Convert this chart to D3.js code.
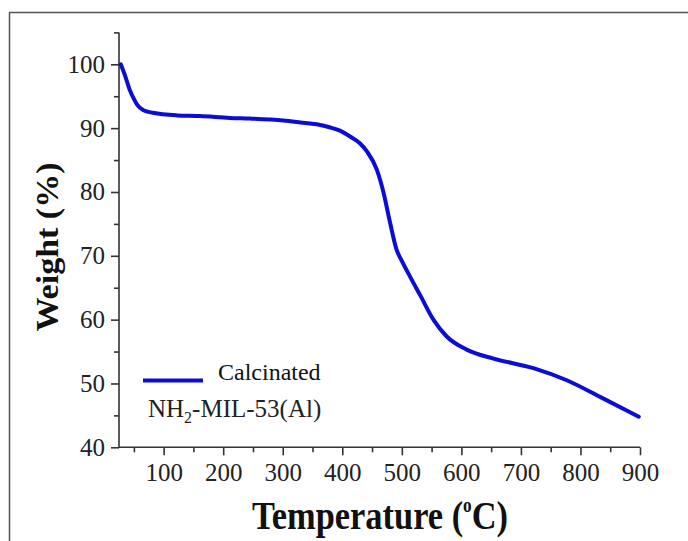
<!DOCTYPE html>
<html>
<head>
<meta charset="utf-8">
<script src="https://cdn.jsdelivr.net/npm/d3@7"></script>
<style>
  body { margin: 0; background: #fff; }
  svg { display: block; }
  .axis text { font-family: "Liberation Serif", "Times New Roman", serif; font-size: 25px; fill: #222; }
  .axis path, .axis line { stroke: #333; stroke-width: 1.6px; }
</style>
</head>
<body>
<div id="graph"></div>
<script>
// TGA curve: temperature (C) and weight (%)
const temperature = [28, 36, 43, 50, 56, 66, 82, 122, 161, 211, 245, 301, 330, 357, 380, 396,
  413, 430, 441, 458, 469, 480, 491, 500, 514, 531, 553, 575, 609, 654, 721, 777, 833, 898];
const weight = [100, 98.0, 96.0, 94.6, 93.6, 92.8, 92.4, 92.0, 91.9, 91.6, 91.5, 91.2, 90.9, 90.6, 90.1, 89.6,
  88.7, 87.6, 86.4, 83.5, 80.0, 75.3, 71.0, 69.2, 66.7, 63.8, 60.0, 57.4, 55.3, 53.9, 52.4, 50.5, 47.9, 44.8];

const xMajor = [100, 200, 300, 400, 500, 600, 700, 800, 900];
const xMinor = [50, 150, 250, 350, 450, 550, 650, 750, 850];
const yMajor = [40, 50, 60, 70, 80, 90, 100];
const yMinor = [45, 55, 65, 75, 85, 95, 105];

const seriesName = 'Calcinated';

const width = 688, height = 541;
const serif = '"Liberation Serif", "Times New Roman", serif';

const svg = d3.select('#graph')
  .append('svg')
  .attr('width', width)
  .attr('height', height);

// Outer frame of the figure
svg.append('rect')
  .attr('x', 9.5).attr('y', 12.5)
  .attr('width', 700).attr('height', 600)
  .attr('fill', 'none')
  .attr('stroke', '#555')
  .attr('stroke-width', 1.5);

const x = d3.scaleLinear().domain([25, 900]).range([119, 640]);
const y = d3.scaleLinear().domain([40, 105]).range([447.3, 32.4]);

// Minor ticks first, then the labelled axes
svg.append('g')
  .attr('class', 'axis')
  .attr('transform', `translate(0,${y(40)})`)
  .call(d3.axisBottom(x).tickValues(xMinor).tickSize(5).tickFormat(''))
  .call(g => g.select('.domain').remove());

svg.append('g')
  .attr('class', 'axis')
  .attr('transform', `translate(${x(25)},0)`)
  .call(d3.axisLeft(y).tickValues(yMinor).tickSize(5).tickFormat(''))
  .call(g => g.select('.domain').remove());

svg.append('g')
  .attr('class', 'axis')
  .attr('transform', `translate(0,${y(40)})`)
  .call(d3.axisBottom(x).tickValues(xMajor).tickSize(8).tickPadding(8).tickSizeOuter(0))
  .call(g => g.select('.domain').attr('d', `M${x(25)},0H${x(900)}`));

svg.append('g')
  .attr('class', 'axis')
  .attr('transform', `translate(${x(25)},0)`)
  .call(d3.axisLeft(y).tickValues(yMajor).tickSize(8).tickPadding(6).tickSizeOuter(0))
  .call(g => g.select('.domain').attr('d', `M0,${y(40)}V${y(105)}`));

// Curve
const points = temperature.map((t, i) => [t, weight[i]]);
const line = d3.line()
  .x(d => x(d[0]))
  .y(d => y(d[1]))
  .curve(d3.curveMonotoneX);

svg.append('path')
  .datum(points)
  .attr('d', line)
  .attr('fill', 'none')
  .attr('stroke', '#0c0cd4')
  .attr('stroke-width', 4)
  .attr('stroke-linecap', 'round');

// Legend
svg.append('line')
  .attr('x1', 143).attr('x2', 203)
  .attr('y1', 380.5).attr('y2', 380.5)
  .attr('stroke', '#0c0cd4')
  .attr('stroke-width', 4);

svg.append('text')
  .attr('x', 218).attr('y', 380)
  .style('font-family', serif)
  .style('font-size', '24px')
  .attr('fill', '#111')
  .text(seriesName);

const sample = svg.append('text')
  .attr('x', 148).attr('y', 417)
  .style('font-family', serif)
  .style('font-size', '25px')
  .attr('fill', '#222');
sample.append('tspan').text('NH');
sample.append('tspan').attr('dy', 6).style('font-size', '16px').text('2');
sample.append('tspan').attr('dy', -6).text('-MIL-53(Al)');

// Axis titles (glyphs are a bit narrower than tall in the picture)
svg.append('text')
  .attr('transform', 'translate(58,247) rotate(-90) scale(1,0.95)')
  .attr('text-anchor', 'middle')
  .style('font-family', serif)
  .style('font-size', '34px')
  .style('font-weight', 'bold')
  .attr('fill', '#111')
  .text('Weight (%)');

const xTitle = svg.append('text')
  .attr('transform', 'translate(380,529) scale(0.86,1)')
  .attr('text-anchor', 'middle')
  .style('font-family', serif)
  .style('font-size', '40px')
  .style('font-weight', 'bold')
  .attr('fill', '#111');
xTitle.append('tspan').text('Temperature (');
xTitle.append('tspan').attr('dy', -17).style('font-size', '20px').text('o');
xTitle.append('tspan').attr('dy', 17).text('C)');
</script>
</body>
</html>
